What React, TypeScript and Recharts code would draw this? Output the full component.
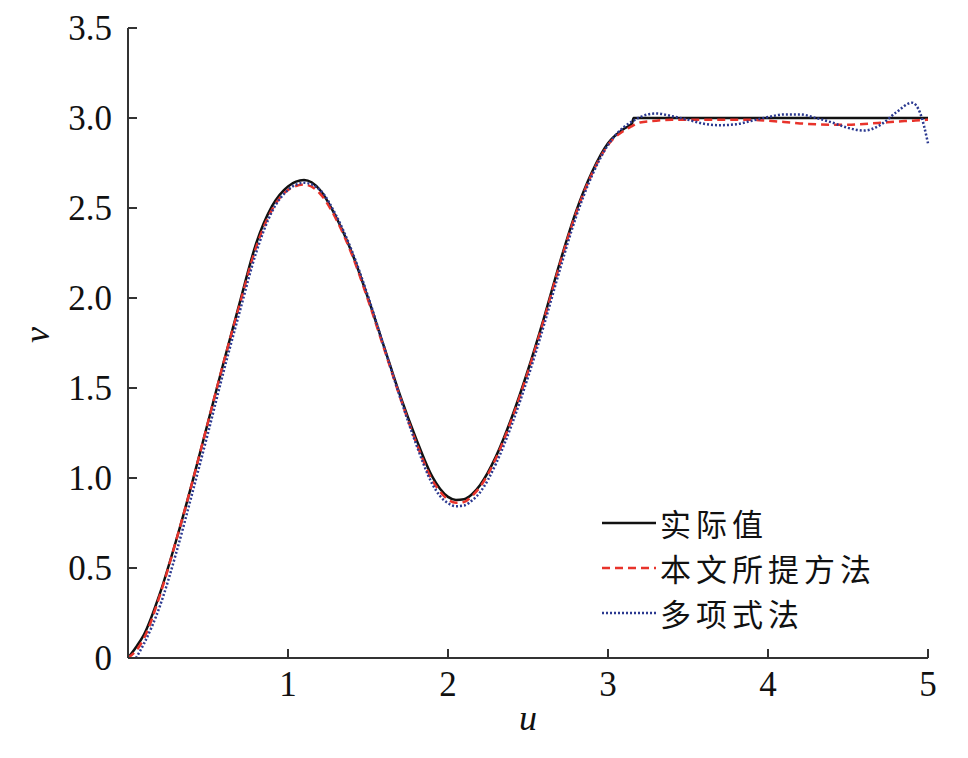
import { Line, LineChart, XAxis, YAxis } from 'recharts';

const uGrid = [
    0, 0.05, 0.1, 0.2, 0.3, 0.4, 0.5, 0.6, 0.7, 0.8, 0.9, 1.0, 1.1, 1.2, 1.3, 1.4, 1.5, 1.6, 1.7, 1.8, 1.9, 1.95,
    2.0, 2.05, 2.1, 2.15, 2.2, 2.3, 2.4, 2.5, 2.6, 2.7, 2.8, 2.9, 3.0, 3.1, 3.15, 3.16, 3.2, 3.3, 3.4, 3.5, 3.6,
    3.7, 3.8, 3.9, 4.0, 4.1, 4.2, 4.3, 4.4, 4.5, 4.6, 4.7, 4.8, 4.9, 4.95, 5.0,
];

// 实际值
const actual = [
    0, 0.06, 0.13, 0.36, 0.65, 0.97, 1.31, 1.65, 1.98, 2.3, 2.51, 2.62, 2.655, 2.6, 2.45, 2.25, 2.0, 1.73, 1.46,
    1.22, 1.01, 0.94, 0.895, 0.878, 0.882, 0.91, 0.96, 1.12, 1.34, 1.6, 1.89, 2.2, 2.48, 2.7, 2.86, 2.94, 2.97,
    3.0, 3.0, 3.0, 3.0, 3.0, 3.0, 3.0, 3.0, 3.0, 3.0, 3.0, 3.0, 3.0, 3.0, 3.0, 3.0, 3.0, 3.0, 3.0, 3.0, 3.0,
];

// 本文所提方法
const proposed = [
    0, 0.04, 0.11, 0.35, 0.65, 0.97, 1.31, 1.65, 1.97, 2.28, 2.49, 2.6, 2.63, 2.58, 2.44, 2.24, 1.99, 1.72, 1.45,
    1.2, 0.99, 0.925, 0.88, 0.863, 0.867, 0.9, 0.95, 1.11, 1.33, 1.59, 1.88, 2.19, 2.47, 2.69, 2.85, 2.93, 2.955,
    2.96, 2.975, 2.985, 2.99, 2.99, 2.99, 2.99, 2.99, 2.99, 2.985, 2.978, 2.97, 2.965, 2.963, 2.963, 2.967,
    2.973, 2.98, 2.985, 2.988, 2.99,
];

// 多项式法
const polynomial = [
    null, 0, 0.08, 0.29, 0.58, 0.91, 1.25, 1.6, 1.93, 2.25, 2.48, 2.6, 2.64, 2.6, 2.46, 2.26, 2.01, 1.73, 1.45,
    1.19, 0.97, 0.9, 0.86, 0.843, 0.847, 0.875, 0.92, 1.08, 1.3, 1.56, 1.85, 2.16, 2.45, 2.68, 2.85, 2.95, 2.98,
    2.985, 3.005, 3.025, 3.01, 2.99, 2.968, 2.96, 2.965, 2.985, 3.005, 3.02, 3.02, 3.0, 2.975, 2.945, 2.93, 2.96,
    3.03, 3.085, 3.03, 2.86,
];

const xTicks = [1, 2, 3, 4, 5];
const yTicks = [0, 0.5, 1.0, 1.5, 2.0, 2.5, 3.0, 3.5];

const data = uGrid.map((u, i) => ({ u, actual: actual[i], proposed: proposed[i], polynomial: polynomial[i] }));

const serif = '"Liberation Serif", "Times New Roman", serif';
const cjk = '"Noto Sans CJK SC", sans-serif';
const axisColor = '#333';

const legendItems = [
    { label: '实际值', color: '#111', dash: undefined, width: 2.5 },
    { label: '本文所提方法', color: '#e8332b', dash: '8 5', width: 2.5 },
    { label: '多项式法', color: '#2b3990', dash: '2 2', width: 2.5 },
];

function YTick(props: any) {
    const { x, y, payload } = props;
    const axisX = x + 16;
    return (
        <g>
            <line x1={axisX} x2={axisX + 9} y1={y} y2={y} stroke={axisColor} strokeWidth={2} />
            <text x={x} y={y} dy="0.35em" textAnchor="end" fontFamily={serif} fontSize={35} fill="#111">
                {payload.value === 0 ? '0' : payload.value.toFixed(1)}
            </text>
        </g>
    );
}

function XTick(props: any) {
    const { x, y, payload } = props;
    const axisY = y - 13;
    return (
        <g>
            <line x1={x} x2={x} y1={axisY} y2={axisY - 9} stroke={axisColor} strokeWidth={2} />
            <text x={x} y={y} dy="0.71em" textAnchor="middle" fontFamily={serif} fontSize={35} fill="#111">
                {payload.value}
            </text>
        </g>
    );
}

function ChartLegend() {
    return (
        <div style={{ position: 'absolute', left: 600, top: 500 }}>
            {legendItems.map((item) => (
                <div key={item.label} style={{ display: 'flex', alignItems: 'center', height: 45 }}>
                    <svg width={58} height={10} style={{ marginRight: 2 }}>
                        <line
                            x1={2}
                            x2={56}
                            y1={5}
                            y2={5}
                            stroke={item.color}
                            strokeWidth={item.width}
                            strokeDasharray={item.dash}
                        />
                    </svg>
                    <span
                        style={{
                            fontFamily: cjk,
                            fontSize: 31,
                            letterSpacing: 5,
                            color: '#111',
                            lineHeight: '45px',
                            whiteSpace: 'nowrap',
                        }}
                    >
                        {item.label}
                    </span>
                </div>
            ))}
        </div>
    );
}

export default function App() {
    return (
        <div style={{ position: 'absolute', left: 0, top: 0, width: 968, height: 758, background: '#fff' }}>
            <LineChart width={968} height={758} data={data} margin={{ top: 28, right: 40, bottom: 60, left: 68 }}>
                <XAxis
                    dataKey="u"
                    type="number"
                    domain={[0, 5]}
                    ticks={xTicks}
                    height={40}
                    tickSize={0}
                    tickMargin={13}
                    tickLine={false}
                    axisLine={{ stroke: axisColor, strokeWidth: 2 }}
                    tick={<XTick />}
                    label={{
                        value: 'u',
                        position: 'insideBottom',
                        offset: -32,
                        style: { fontFamily: serif, fontStyle: 'italic', fontSize: 36, fill: '#111' },
                    }}
                />
                <YAxis
                    type="number"
                    domain={[0, 3.5]}
                    ticks={yTicks}
                    width={60}
                    tickSize={0}
                    tickMargin={16}
                    tickLine={false}
                    axisLine={{ stroke: axisColor, strokeWidth: 2 }}
                    tick={<YTick />}
                    label={{
                        value: 'v',
                        angle: -90,
                        position: 'insideLeft',
                        offset: -32,
                        dy: 0,
                        style: { fontFamily: serif, fontStyle: 'italic', fontSize: 36, fill: '#111' },
                    }}
                />
                <Line
                    dataKey="actual"
                    type="monotone"
                    stroke="#111"
                    strokeWidth={2.5}
                    dot={false}
                    isAnimationActive={false}
                />
                <Line
                    dataKey="proposed"
                    type="monotone"
                    stroke="#e8332b"
                    strokeWidth={2.5}
                    strokeDasharray="8 5"
                    dot={false}
                    isAnimationActive={false}
                />
                <Line
                    dataKey="polynomial"
                    type="monotone"
                    stroke="#2b3990"
                    strokeWidth={2.5}
                    strokeDasharray="2 2"
                    dot={false}
                    isAnimationActive={false}
                />
            </LineChart>
            <ChartLegend />
        </div>
    );
}
